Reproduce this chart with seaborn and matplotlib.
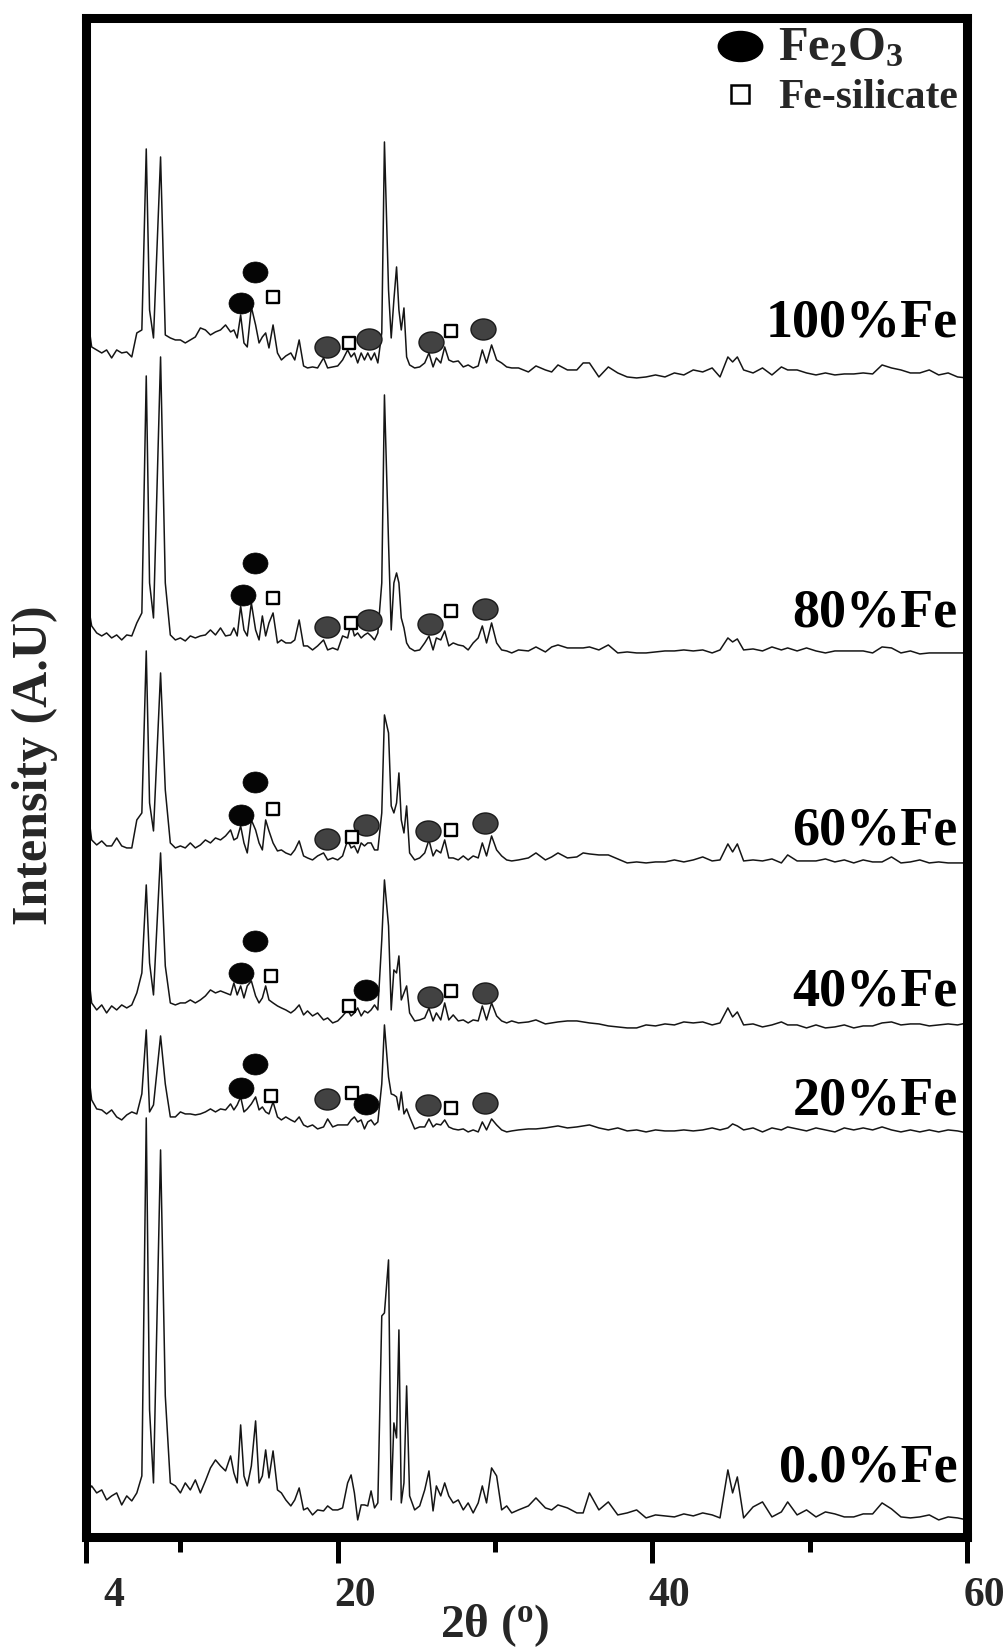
import numpy as np
import pandas as pd
import matplotlib
matplotlib.use("Agg")
import matplotlib.pyplot as plt
import seaborn as sns
from matplotlib.path import Path
from matplotlib.lines import Line2D
from matplotlib.transforms import ScaledTranslation

# 2-theta sampling points (degrees), shared by all patterns
two_theta = [
    4.04, 4.36, 4.68, 5.00, 5.31, 5.63, 5.95, 6.27, 6.59, 6.91, 7.23, 7.55, 7.83, 8.04, 8.29,
    8.74, 9.04, 9.36, 9.68, 10.00, 10.31, 10.63, 10.95, 11.27, 11.59, 11.91, 12.23, 12.55,
    12.87, 13.19, 13.40, 13.61, 13.83, 14.04, 14.25, 14.51, 14.78, 15.00, 15.21, 15.42, 15.63,
    15.89, 16.17, 16.42, 16.70, 17.02, 17.27, 17.55, 17.83, 18.08, 18.40, 18.72, 19.10, 19.36,
    19.68, 20.00, 20.31, 20.63, 20.85, 21.06, 21.27, 21.49, 21.70, 21.91, 22.12, 22.34, 22.55,
    22.80, 22.97, 23.23, 23.40, 23.57, 23.74, 23.89, 24.04, 24.21, 24.38, 24.57, 24.89, 25.21,
    25.53, 25.80, 26.06, 26.27, 26.55, 26.80, 27.06, 27.34, 27.66, 27.98, 28.29, 28.61, 28.93,
    29.19, 29.46, 29.78, 30.10, 30.42, 30.74, 31.06, 31.49, 32.12,
    32.6, 33.2, 33.6, 34.0, 34.6, 35.2, 35.6, 36.0, 36.6, 37.2, 37.8, 38.4, 39.0, 39.6, 40.2,
    40.8, 41.4, 42.0, 42.6, 43.2, 43.8, 44.3, 44.8, 45.1, 45.4, 45.8, 46.4, 47.0, 47.6, 48.2,
    48.6, 49.2, 49.8, 50.4, 51.0, 51.6, 52.2, 52.8, 53.4, 54.0, 54.6, 55.2, 55.8, 56.4, 57.0,
    57.6, 58.2, 58.8, 59.4, 60.0,
]

# intensities (a.u.) above each pattern's own baseline
int_100 = [
    60, 23, 20, 17, 20, 12, 20, 17, 18, 13, 37, 40, 221, 60, 32, 213, 35, 32, 30, 30, 27, 30,
    33, 42, 40, 35, 38, 40, 45, 38, 40, 32, 55, 27, 23, 63, 45, 27, 33, 37, 22, 45, 17, 10, 14,
    17, 10, 30, 4, 2, 3, 2, 12, 2, 3, 4, 10, 20, 13, 17, 7, 17, 10, 17, 10, 17, 7, 37, 228, 80,
    32, 70, 103, 60, 40, 62, 13, 5, 2, 3, 7, 17, 3, 12, 7, 23, 10, 8, 9, 3, 5, 2, 4, 20, 7, 25,
    10, 7, 3, 2, 2, -2,
    4, 0, -2, 5, 0, 0, 7, 7, -7, 3, -3, -7, -8, -7, -5, -7, -3, -5, 0, -2, 2, -7, 13, 8, 13, 0,
    -3, 2, -5, 3, 0, 0, -3, -5, -3, -5, -4, -4, -3, -4, 5, 2, 0, -3, -3, 0, -5, -3, -7, -8,
]
int_80 = [
    47, 17, 10, 7, 10, 5, 8, 3, 8, 7, 20, 30, 267, 60, 25, 286, 60, 8, 3, 5, 2, 7, 5, 7, 8, 13,
    8, 15, 7, 8, 15, 7, 37, 13, 7, 40, 13, 3, 27, 7, 20, 30, 0, 3, 0, 0, 3, 23, -3, -3, -7, -3,
    3, -7, -5, -7, 7, 5, 20, 7, 10, 5, 8, 10, 7, 3, 10, 60, 248, 100, 13, 60, 70, 60, 25, 15, 0,
    -5, -8, -7, 0, 7, -7, 5, 3, 12, -3, 0, -2, -3, -7, 0, 5, 17, 0, 20, 0, -7, -8, -10, -7, -8,
    -4, -9, -4, -2, -5, -5, -5, -4, -7, -2, -10, -9, -10, -10, -9, -8, -8, -7, -8, -7, -10, -7,
    5, 1, 4, -7, -6, -8, -4, -7, -5, -8, -5, -8, -10, -8, -8, -8, -8, -10, -4, -5, -10, -8,
    -11, -10, -10, -10, -10, -10,
]
int_60 = [
    53, 13, 8, 12, 7, 7, 15, 7, 5, 5, 33, 40, 202, 50, 22, 180, 63, 10, 5, 7, 5, 10, 5, 8, 13,
    10, 15, 13, 17, 23, 13, 15, 27, 10, 0, 33, 23, 10, 3, 33, 22, 10, 2, 3, 0, -2, 3, 12, -3, -5,
    -7, -3, 0, -7, -5, -7, -3, 13, 5, 7, 0, 10, 7, 10, 10, 3, 3, 40, 138, 120, 47, 40, 50, 80,
    33, 20, 47, 0, -7, -5, 0, 13, -3, 3, 0, 13, -5, -5, -7, -3, -7, -3, -5, 10, -3, 17, 3, -3,
    -7, -8, -7, -5,
    0, -7, -4, 0, -5, -4, 0, -1, -2, -2, -6, -10, -9, -10, -9, -9, -7, -9, -7, -4, -8, -7, 9, 1,
    9, -8, -7, -8, -6, -10, -2, -8, -8, -8, -6, -9, -7, -10, -7, -9, -9, -4, -10, -9, -7, -10,
    -9, -10, -10, -10,
]
int_40 = [
    55, 10, 3, 8, 0, 7, 3, 8, 5, 8, 20, 40, 128, 50, 18, 160, 47, 10, 8, 10, 10, 13, 10, 13, 17,
    23, 20, 22, 20, 18, 30, 18, 27, 15, 27, 32, 17, 10, 15, 27, 13, 10, 7, 5, 3, 0, 3, 8, -2, 2,
    -3, 0, -7, -5, -10, -8, -3, 3, -3, 0, 5, -3, 2, 0, 3, 8, 3, 73, 133, 87, 3, 43, 40, 57, 13,
    20, 27, 0, -8, -7, -5, 5, -8, 0, -7, 10, -7, -2, -8, -7, -10, -7, -8, 7, -7, 10, -3, -8,
    -10, -8, -10, -9,
    -7, -11, -10, -9, -8, -8, -9, -10, -11, -13, -14, -15, -15, -12, -13, -11, -12, -9, -10, -9,
    -12, -10, 5, -4, 1, -12, -11, -14, -12, -9, -12, -12, -15, -12, -15, -14, -12, -15, -13,
    -13, -10, -9, -12, -11, -11, -13, -12, -11, -12, -10,
]
int_20 = [
    60, 17, 8, 7, 3, 7, 0, -3, 2, 5, 3, 23, 87, 5, 12, 81, 33, 0, 0, 5, 3, 3, 2, 3, 5, 8, 5, 8,
    7, 13, 7, 12, 20, 5, 8, 13, 20, 7, 10, 5, 3, 15, 0, -3, 0, -3, -5, 0, -8, -10, -8, -12, -10,
    -2, -10, -8, -8, -8, -3, 0, -5, -3, -12, -5, -3, -8, -5, 33, 92, 40, 23, 22, 20, 7, 25, 3,
    8, 0, -12, -10, -10, -2, -10, -7, -8, -3, -10, -12, -13, -12, -15, -13, -15, -5, -13, -2,
    -8, -13, -15, -14, -13, -12,
    -12, -11, -10, -9, -11, -10, -9, -8, -11, -13, -11, -14, -13, -15, -13, -14, -14, -13, -14,
    -13, -11, -13, -11, -7, -9, -13, -11, -15, -11, -13, -10, -12, -14, -11, -13, -15, -11,
    -13, -11, -13, -10, -13, -15, -13, -15, -13, -15, -13, -14, -16,
]
int_0 = [
    10, 17, 10, 13, 3, 7, 10, -2, 7, 2, 10, 27, 385, 93, 20, 353, 107, 20, 17, 10, 20, 13, 23,
    10, 22, 35, 43, 37, 32, 47, 30, 20, 78, 27, 17, 37, 82, 20, 27, 53, 25, 52, 13, 10, 3, -3,
    3, 15, -7, -5, -12, -7, -8, -3, -7, -7, -5, 20, 28, 10, -17, -2, -2, -3, 12, -5, 0, 187,
    190, 243, 3, 80, 65, 173, 0, 20, 117, 7, -7, -3, 13, 32, -8, 17, 7, 20, 7, 0, 3, -7, 0,
    -10, 0, 17, 0, 35, 27, -7, -3, -10, -7, -3,
    5, -5, -7, -2, -5, -10, -10, 10, -7, 1, -12, -10, -7, -15, -12, -13, -14, -11, -13, -10,
    -12, -15, 33, 10, 26, -15, -4, 1, -14, -9, 1, -12, -7, -14, -9, -11, -14, -14, -11, -11,
    0, -6, -14, -15, -14, -12, -17, -14, -15, -17,
]

samples = ["100%Fe", "80%Fe", "60%Fe", "40%Fe", "20%Fe", "0.0%Fe"]
patterns = [int_100, int_80, int_60, int_40, int_20, int_0]

# phase markers: sample, 2-theta, height above the sample baseline
fe2o3_sample = ["100%Fe", "100%Fe", "80%Fe", "80%Fe", "60%Fe", "60%Fe",
                "40%Fe", "40%Fe", "40%Fe", "20%Fe", "20%Fe", "20%Fe"]
fe2o3_tt = [13.83, 14.72, 13.99, 14.72, 13.83, 14.72, 13.83, 14.72, 21.80, 13.83, 14.72, 21.80]
fe2o3_h = [67, 98, 48, 80, 38, 71, 40, 72, 23, 29, 53, 13]

fe2o3g_sample = ["100%Fe"] * 4 + ["80%Fe"] * 4 + ["60%Fe"] * 4 + ["40%Fe"] * 2 + ["20%Fe"] * 3
fe2o3g_tt = [19.31, 22.00, 25.95, 29.25, 19.31, 22.00, 25.85, 29.36, 19.31, 21.80, 25.74, 29.36,
             25.85, 29.36, 19.31, 25.74, 29.36]
fe2o3g_h = [23, 31, 28, 41, 16, 23, 19, 34, 14, 28, 22, 30, 16, 20, 18, 12, 14]

sil_sample = ["100%Fe"] * 3 + ["80%Fe"] * 3 + ["60%Fe"] * 3 + ["40%Fe"] * 3 + ["20%Fe"] * 3
sil_tt = [15.89, 20.70, 27.19, 15.89, 20.85, 27.19, 15.89, 20.89, 27.19, 15.78, 20.70, 27.19,
          15.78, 20.89, 27.19]
sil_h = [73, 27, 39, 45, 20, 32, 44, 16, 23, 37, 7, 22, 21, 24, 9]

# stacking offsets and label heights (layout)
offsets = {"100%Fe": 1167, "80%Fe": 894, "60%Fe": 684, "40%Fe": 524, "20%Fe": 420, "0.0%Fe": 34}
label_y = {"100%Fe": 1213, "80%Fe": 923, "60%Fe": 705, "40%Fe": 544, "20%Fe": 435, "0.0%Fe": 68}

sns.set_style("ticks")
plt.rcParams["font.family"] = ["Liberation Serif", "DejaVu Serif"]
plt.rcParams["font.weight"] = "bold"
plt.rcParams["mathtext.fontset"] = "custom"
plt.rcParams["mathtext.rm"] = "Liberation Serif:bold"
plt.rcParams["mathtext.bf"] = "Liberation Serif:bold"
plt.rcParams["mathtext.it"] = "Liberation Serif:italic:bold"
plt.rcParams["mathtext.default"] = "rm"

fig = plt.figure(figsize=(10.07, 16.48), dpi=100)
ax = fig.add_axes([0.0854, 0.0674, 0.8749, 0.9217])

for name, vals in zip(samples, patterns):
    df = pd.DataFrame({"tt": two_theta, "I": np.array(vals, dtype=float) + offsets[name]})
    sns.lineplot(data=df, x="tt", y="I", color="#151515", linewidth=1.1,
                 estimator=None, sort=False, ax=ax)
    ax.text(59.4, label_y[name], name, ha="right", va="center", fontsize=39,
            fontweight="bold", color="black")

circ = Path.unit_circle()
ell = Path(circ.vertices * [1.19, 1.0], circ.codes)
ell_leg = Path(circ.vertices * [1.48, 1.0], circ.codes)

def stacked(samp, h):
    return [offsets[s] + v for s, v in zip(samp, h)]

ax.scatter(fe2o3_tt, stacked(fe2o3_sample, fe2o3_h), marker=ell, s=18 ** 2,
           color="#050505", edgecolors="#050505", linewidths=0.5, zorder=4)
ax.scatter(fe2o3g_tt, stacked(fe2o3g_sample, fe2o3g_h), marker=ell, s=18 ** 2,
           color="#424242", edgecolors="#1a1a1a", linewidths=1.0, zorder=4)
ax.scatter(sil_tt, stacked(sil_sample, sil_h), marker="s", s=8 ** 2,
           facecolors="white", edgecolors="black", linewidths=1.7, zorder=4)

handles = [
    Line2D([], [], marker=ell_leg, ms=32, color="black", ls="none"),
    Line2D([], [], marker="s", ms=13, mfc="white", mec="black", mew=1.8, ls="none"),
]
leg = ax.legend(handles, ["Fe$_2$O$_3$", "Fe-silicate"], loc="upper right",
                bbox_to_anchor=(1.013, 1.008), frameon=False, fontsize=30,
                handletextpad=0.3, labelspacing=0.2, borderaxespad=0.1,
                handlelength=1.2)
leg.get_texts()[0].set_fontsize(35)

ax.set_xlim(4, 60)
ax.set_ylim(0, 1519)
ax.set_yticks([])
ax.set_xticks([4, 20, 40, 60])
ax.set_xticklabels(["4", "20", "40", "60"])
ax.set_xticks([10, 30, 50], minor=True)
ax.tick_params(axis="x", which="major", direction="out", length=19, width=3.6,
               labelsize=30, pad=10, color="black")
ax.tick_params(axis="x", which="minor", direction="out", length=11, width=3.6,
               color="black")
for i, lab in enumerate(ax.get_xticklabels()):
    dx = 0.28 if i == 0 else 0.17
    lab.set_transform(lab.get_transform() + ScaledTranslation(dx, 0, fig.dpi_scale_trans))
    lab.set_fontweight("bold")

for side in ["left", "right", "top", "bottom"]:
    ax.spines[side].set_linewidth(6.5)
    ax.spines[side].set_color("black")

ax.set_xlabel("2θ ($^{o}$)", fontsize=34, fontweight="bold")
ax.xaxis.set_label_coords(0.464, -0.043)
ax.set_ylabel("")
fig.text(35 / 1007, 1 - 765 / 1648, "Intensity (A.U)", rotation=90, ha="center",
         va="center", fontsize=36, fontweight="bold")

fig.savefig("out.png", dpi=100)
